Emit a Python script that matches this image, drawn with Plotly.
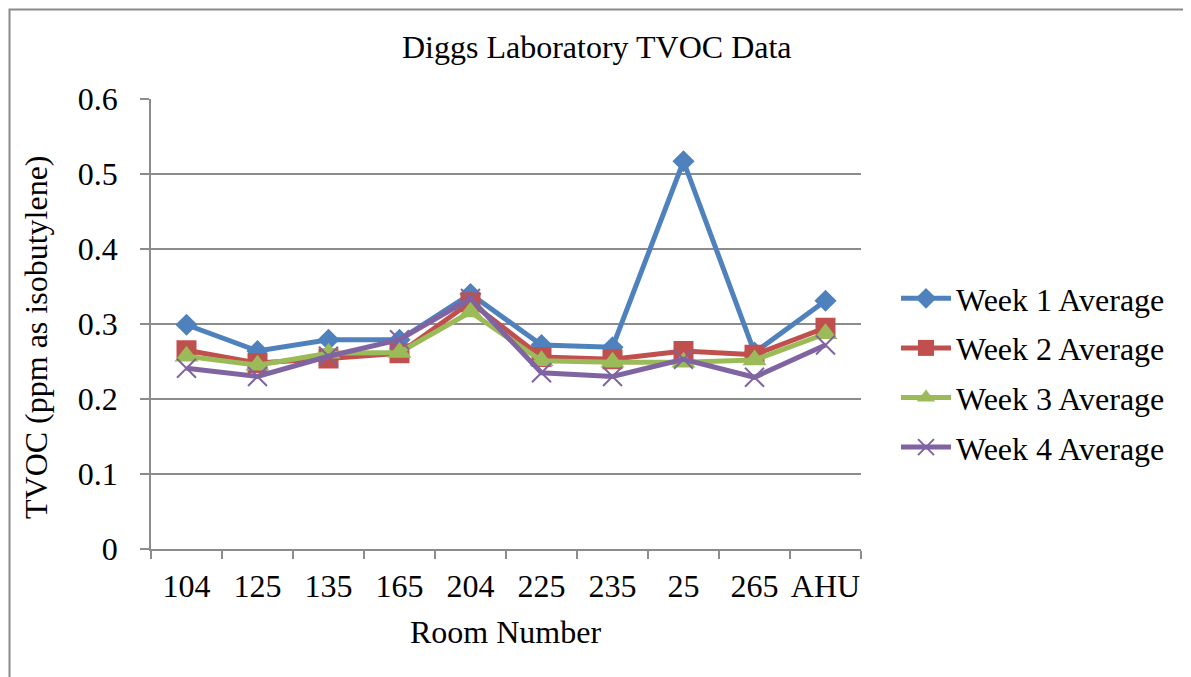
import plotly.graph_objects as go

rooms = ["104", "125", "135", "165", "204", "225", "235", "25", "265", "AHU"]
week1 = [0.299, 0.264, 0.279, 0.279, 0.340, 0.272, 0.269, 0.517, 0.262, 0.331]
week2 = [0.265, 0.248, 0.254, 0.261, 0.329, 0.256, 0.253, 0.264, 0.259, 0.295]
week3 = [0.257, 0.245, 0.261, 0.262, 0.316, 0.251, 0.249, 0.249, 0.252, 0.287]
week4 = [0.241, 0.230, 0.257, 0.279, 0.334, 0.235, 0.230, 0.253, 0.229, 0.272]
series_names = ["Week 1 Average", "Week 2 Average", "Week 3 Average", "Week 4 Average"]

colors = ["#4F81BD", "#C0504D", "#9BBB59", "#8064A2"]
markers = [
    dict(symbol="diamond", size=17, color=colors[0]),
    dict(symbol="square", size=20, color=colors[1]),
    dict(symbol="triangle-up", size=21, color=colors[2]),
    dict(symbol="x-thin", size=19, color=colors[3], line=dict(width=2, color=colors[3])),
]

FONT = "Liberation Serif"
GRID = "#8C8C8C"

# the page places the figure 8px in from the top-left corner
OFF = 8
W, H = 1191 - OFF, 677 - OFF
PL, PR, PT, PB = 151, 861, 99, 549  # plot area in page pixels
PW, PH = PR - PL, PB - PT


def px(x):
    return (x - PL) / PW


def py(y):
    return (PB - y) / PH


fig = go.Figure()
for i, (name, vals) in enumerate(zip(series_names, [week1, week2, week3, week4])):
    fig.add_trace(go.Scatter(
        x=rooms, y=vals, name=name, mode="lines+markers",
        line=dict(color=colors[i], width=5),
        marker=markers[i],
        legendgroup=f"g{i}",
    ))

fig.update_layout(
    width=W, height=H,
    margin=dict(l=PL - OFF, r=W - (PR - OFF), t=PT - OFF, b=H - (PB - OFF), autoexpand=False),
    paper_bgcolor="white", plot_bgcolor="white",
    font=dict(family=FONT, color="black", size=32),
    showlegend=True,
    legend=dict(
        x=px(896), xanchor="left", y=py(271), yanchor="top",
        font=dict(family=FONT, size=32, color="black"),
        traceorder="grouped", tracegroupgap=5,
        itemwidth=50,
        bgcolor="rgba(0,0,0,0)",
    ),
    xaxis=dict(
        type="category", range=[-0.5, 9.5],
        tickson="boundaries", ticks="outside", ticklen=8, tickwidth=1.5, tickcolor=GRID,
        showline=True, linecolor=GRID, linewidth=1.5,
        showgrid=False, tickangle=0,
        tickfont=dict(family=FONT, size=32, color="black"),
        ticklabelstandoff=8,
    ),
    yaxis=dict(
        range=[0, 0.6], dtick=0.1, tick0=0,
        ticks="outside", ticklen=9, tickwidth=1.5, tickcolor=GRID,
        showline=True, linecolor=GRID, linewidth=1.5,
        showgrid=True, gridcolor=GRID, gridwidth=1.5,
        zeroline=False,
        tickfont=dict(family=FONT, size=32, color="black"),
        ticklabelstandoff=16,
    ),
    annotations=[
        dict(text="Diggs Laboratory TVOC Data", xref="paper", yref="paper",
             x=px(597), y=py(47), xanchor="center", yanchor="middle",
             showarrow=False, font=dict(family=FONT, size=32, color="black")),
        dict(text="Room Number", xref="paper", yref="paper",
             x=px(505), y=py(632), xanchor="center", yanchor="middle",
             showarrow=False, font=dict(family=FONT, size=32, color="black")),
        dict(text="TVOC (ppm as isobutylene)", xref="paper", yref="paper",
             x=px(36), y=py(337), xanchor="center", yanchor="middle",
             textangle=-90, showarrow=False, font=dict(family=FONT, size=32, color="black")),
    ],
    shapes=[
        dict(type="rect", xref="paper", yref="paper",
             x0=px(OFF + 1.5), x1=px(1260),
             y0=py(OFF + 1.5), y1=py(720),
             line=dict(color="#8A8A8A", width=2), fillcolor="rgba(0,0,0,0)", layer="below"),
    ],
)

fig.write_html("out.html")
